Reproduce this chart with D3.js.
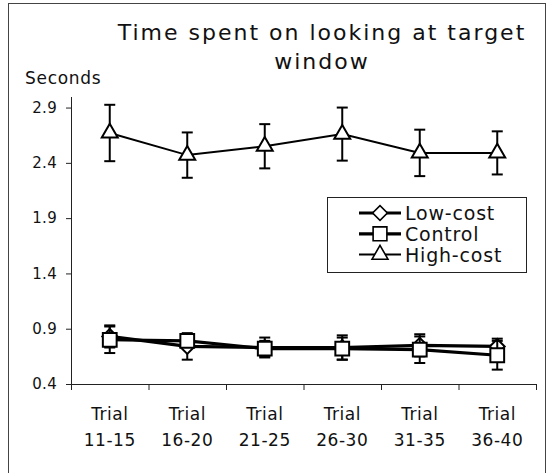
<!DOCTYPE html>
<html>
<head>
<meta charset="utf-8">
<script src="https://d3js.org/d3.v7.min.js"></script>
<style>
  body { margin: 0; background: #fff; }
  svg { display: block; font-family: "DejaVu Sans", Verdana, sans-serif; }
  .axis path, .axis line { stroke: #222; }
  .axis text { fill: #111; }
</style>
</head>
<body>
<svg width="548" height="473"></svg>
<script>
const trials = ['11-15', '16-20', '21-25', '26-30', '31-35', '36-40'];
const lowCost = [0.83, 0.74, 0.73, 0.73, 0.75, 0.74];
const lowCostErr = [0.10, 0.12, 0.09, 0.11, 0.10, 0.07];
const control = [0.80, 0.79, 0.72, 0.72, 0.71, 0.66];
const controlErr = [0.12, 0.05, 0.07, 0.10, 0.12, 0.13];
const highCost = [2.67, 2.47, 2.55, 2.66, 2.49, 2.49];
const highCostErr = [0.255, 0.205, 0.20, 0.24, 0.21, 0.195];
const yTicks = [0.4, 0.9, 1.4, 1.9, 2.4, 2.9];

const series = [
  { name: 'Low-cost', values: lowCost, err: lowCostErr, shape: 'diamond', width: 3.2 },
  { name: 'Control', values: control, err: controlErr, shape: 'square', width: 3.2 },
  { name: 'High-cost', values: highCost, err: highCostErr, shape: 'triangle', width: 2 }
];

const svg = d3.select('svg');

// outer frame
svg.append('rect')
  .attr('x', 8.5).attr('y', 3.5)
  .attr('width', 537).attr('height', 475)
  .attr('fill', 'none').attr('stroke', '#444').attr('stroke-width', 1);

const x = d3.scaleBand().domain(trials).range([71, 536]).padding(0);
const y = d3.scaleLinear().domain([0.4, 3.0]).range([384, 96.5]);
const cx = (i) => x(trials[i]) + x.bandwidth() / 2;

// y axis
svg.append('g')
  .attr('class', 'axis')
  .attr('transform', 'translate(71,0)')
  .call(d3.axisLeft(y).tickValues(yTicks).tickSize(5).tickPadding(9).tickSizeOuter(0).tickFormat(d3.format('.1f')))
  .call(g => g.selectAll('text').attr('font-size', 15).attr('font-family', '"DejaVu Sans", sans-serif').attr('letter-spacing', 0.3));

// x axis: line + boundary ticks
const xAxis = svg.append('g').attr('class', 'axis');
xAxis.append('line')
  .attr('x1', x.range()[0]).attr('x2', x.range()[1])
  .attr('y1', y(0.4) + 0.5).attr('y2', y(0.4) + 0.5);
const edges = trials.map(t => x(t)).concat([x.range()[1]]);
xAxis.selectAll('.edge').data(edges).enter().append('line')
  .attr('x1', d => d + 0.5).attr('x2', d => d + 0.5)
  .attr('y1', y(0.4)).attr('y2', y(0.4) + 6);
const xl = xAxis.selectAll('.xl').data(trials).enter().append('text')
  .attr('text-anchor', 'middle')
  .attr('font-size', 17)
  .attr('letter-spacing', 0.5)
  .attr('fill', '#111');
xl.append('tspan').attr('x', (d, i) => cx(i)).attr('y', 420).text('Trial');
xl.append('tspan').attr('x', (d, i) => cx(i)).attr('y', 446).text(d => d);

function marker(shape) {
  if (shape === 'square') return d3.symbol().type(d3.symbolSquare).size(190)();
  if (shape === 'diamond') return d3.symbol().type(d3.symbolSquare).size(110)();
  return d3.symbol().type(d3.symbolTriangle).size(110)();
}

const line = d3.line().x((d, i) => cx(i)).y(d => y(d));

series.forEach(s => {
  const g = svg.append('g');
  // error bars
  s.values.forEach((v, i) => {
    const e = s.err[i];
    g.append('line')
      .attr('x1', cx(i)).attr('x2', cx(i))
      .attr('y1', y(v + e)).attr('y2', y(v - e))
      .attr('stroke', '#000').attr('stroke-width', 2);
    [v + e, v - e].forEach(b => {
      g.append('line')
        .attr('x1', cx(i) - 5.5).attr('x2', cx(i) + 5.5)
        .attr('y1', y(b)).attr('y2', y(b))
        .attr('stroke', '#000').attr('stroke-width', 2);
    });
  });
  g.append('path')
    .datum(s.values)
    .attr('d', line)
    .attr('fill', 'none')
    .attr('stroke', '#000')
    .attr('stroke-width', s.width);
  g.selectAll('.m').data(s.values).enter().append('path')
    .attr('d', marker(s.shape))
    .attr('transform', (d, i) => `translate(${cx(i)},${y(d)})` + (s.shape === 'diamond' ? ' rotate(45)' : ''))
    .attr('fill', '#fff')
    .attr('stroke', '#000')
    .attr('stroke-width', 2);
});

// legend
const legend = svg.append('g');
legend.append('rect')
  .attr('x', 327.5).attr('y', 197.5).attr('width', 199).attr('height', 75)
  .attr('fill', '#fff').attr('stroke', '#222').attr('stroke-width', 1);
series.forEach((s, i) => {
  const ly = 213 + i * 20.8;
  legend.append('line')
    .attr('x1', 359).attr('x2', 401).attr('y1', ly).attr('y2', ly)
    .attr('stroke', '#000').attr('stroke-width', s.width);
  legend.append('path')
    .attr('d', marker(s.shape))
    .attr('transform', `translate(380,${ly})` + (s.shape === 'diamond' ? ' rotate(45)' : ''))
    .attr('fill', '#fff').attr('stroke', '#000').attr('stroke-width', 1.6);
  legend.append('text')
    .attr('x', 405).attr('y', ly + 7)
    .attr('font-size', 19)
    .attr('letter-spacing', 0.8)
    .attr('fill', '#111')
    .text(s.name);
});

// titles
svg.append('text')
  .attr('x', 322).attr('y', 40)
  .attr('text-anchor', 'middle')
  .attr('font-size', 22)
  .attr('fill', '#111')
  .attr('letter-spacing', 2)
  .text('Time spent on looking at target');
svg.append('text')
  .attr('x', 322).attr('y', 69)
  .attr('text-anchor', 'middle')
  .attr('font-size', 22)
  .attr('fill', '#111')
  .attr('letter-spacing', 2)
  .text('window');
svg.append('text')
  .attr('x', 25).attr('y', 84)
  .attr('font-size', 17)
  .attr('letter-spacing', 0.7)
  .attr('fill', '#111')
  .text('Seconds');
</script>
</body>
</html>
